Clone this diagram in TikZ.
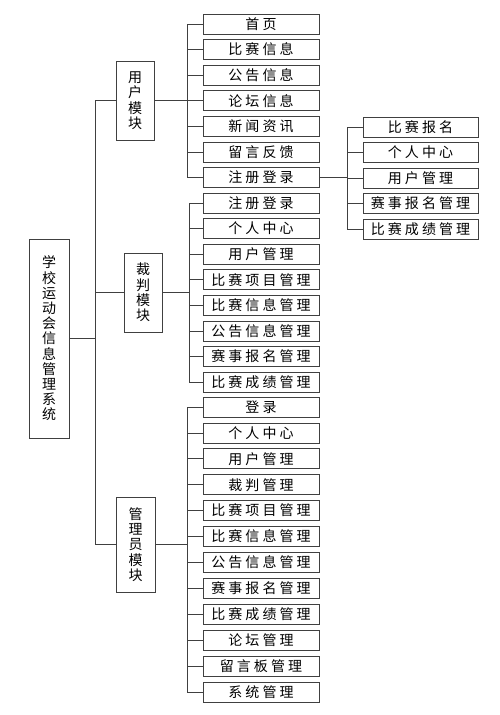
\documentclass[tikz,border=0pt]{standalone}
\usepackage{fontspec}
\usetikzlibrary{positioning,calc}
\newfontfamily\cjk{Noto Sans CJK SC}
\newfontfamily\cjkwide{Noto Sans CJK SC}[LetterSpace=22]
\newcommand{\leaffont}{\cjkwide\fontsize{14}{16}\selectfont}
\newcommand{\modfont}{\cjk\fontsize{14}{15.4}\selectfont}
\tikzset{
    leaf/.style={draw=black!75, line width=0.8pt, minimum width=116pt, minimum height=20pt, inner sep=0pt, font=\leaffont},
    module/.style={draw=black!75, line width=0.8pt, minimum width=38pt, inner sep=0pt, align=center, font=\modfont},
    link/.style={draw=black!75, line width=0.8pt}
}

\begin{document}
\begin{tikzpicture}[x=1pt,y=-1pt]
    \useasboundingbox (0,0) rectangle (500,715);

    \node[module, minimum width=40pt, minimum height=199pt, font=\cjk\fontsize{14}{15.2}\selectfont] (sys) at (49,338.5) {学\\校\\运\\动\\会\\信\\息\\管\\理\\系\\统};
    \node[module, minimum height=79pt] (user) at (135,100.5) {用\\户\\模\\块};
    \node[module, minimum height=79pt] (judge) at (143,292.5) {裁\\判\\模\\块};
    \node[module, minimum width=39pt, minimum height=95pt] (admin) at (135.5,544.5) {管\\理\\员\\模\\块};

    % second level
    \foreach \t [count=\i from 0] in {首页,比赛信息,公告信息,论坛信息,新闻资讯,留言反馈,注册登录}
        \node[leaf] (u\i) at (261,{24+25.6*\i}) {\t};
    \foreach \t [count=\i from 0] in {注册登录,个人中心,用户管理,比赛项目管理,比赛信息管理,公告信息管理,赛事报名管理,比赛成绩管理}
        \node[leaf] (j\i) at (261,{203+25.6*\i}) {\t};
    \foreach \t [count=\i from 0] in {登录,个人中心,用户管理,裁判管理,比赛项目管理,比赛信息管理,公告信息管理,赛事报名管理,比赛成绩管理,论坛管理,留言板管理,系统管理}
        \node[leaf] (a\i) at (261,{407+25.9*\i}) {\t};

    % third level
    \foreach \t [count=\i from 0] in {比赛报名,个人中心,用户管理,赛事报名管理,比赛成绩管理}
        \node[leaf, minimum width=115pt] (s\i) at (420.5,{127+25.5*\i}) {\t};

    \path (sys.east) ++(26,0) coordinate (trunk);
    \path (user.east) ++(33,0) coordinate (ubus);
    \path (judge.east) ++(27,0) coordinate (jbus);
    \path (admin.east) ++(32,0) coordinate (abus);
    \path (u6.east) ++(28,0) coordinate (sbus);

    \foreach \m in {user,judge,admin}
        \draw[link] (sys.east) -- (trunk) |- (\m.west);
    \foreach \i in {0,...,6}
        \draw[link] (user.east) -- (ubus) |- (u\i.west);
    \foreach \i in {0,...,7}
        \draw[link] (judge.east) -- (jbus) |- (j\i.west);
    \foreach \i in {0,...,11}
        \draw[link] (admin.east) -- (abus) |- (a\i.west);
    \foreach \i in {0,...,4}
        \draw[link] (u6.east) -- (sbus) |- (s\i.west);
\end{tikzpicture}
\end{document}
